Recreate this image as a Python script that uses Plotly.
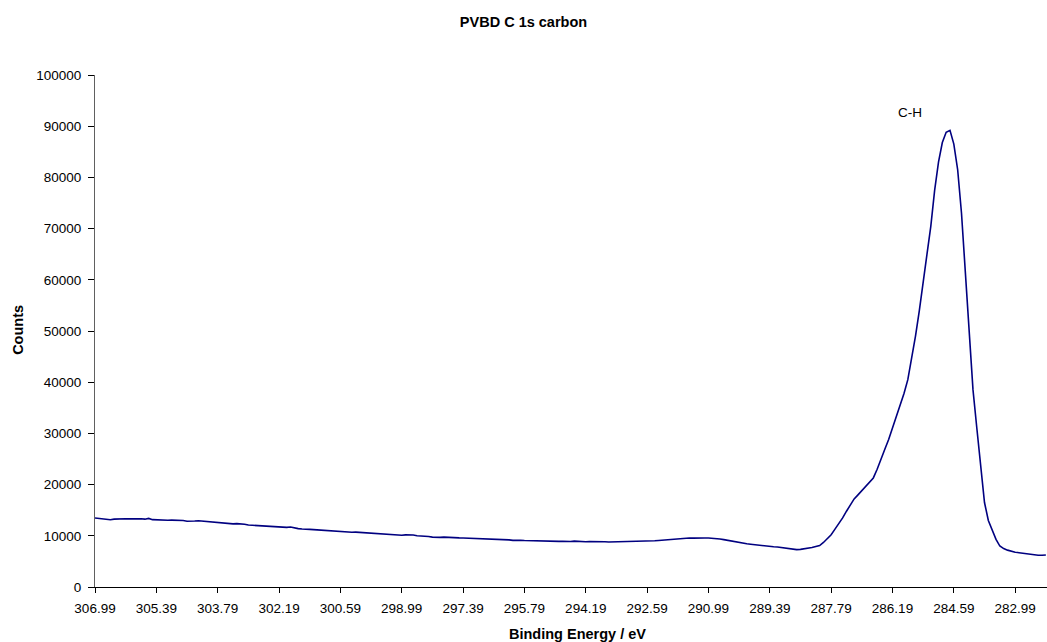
import numpy as np
import plotly.graph_objects as go

# Binding energy axis: 306.99 eV down to 282.19 eV in 0.1 eV steps (249 points)
energy_start = 306.99
energy_step = 0.1
n_points = 249
binding_energy = [round(energy_start - i * energy_step, 2) for i in range(n_points)]

counts_background = [
    13480, 13420, 13300, 13180, 13140, 13250, 13300, 13280, 13320, 13300,
    13350, 13300, 13330, 13250, 13400, 13150, 13100, 13080, 13060, 13050,
    13070, 13040, 13060, 12980, 12850, 12810, 12900, 12950, 12880, 12800,
    12750, 12650, 12620, 12500, 12400, 12300, 12320, 12380, 12360, 12250,
    12100, 12050, 11980, 11900, 11850, 11800, 11710, 11750, 11690, 11600,
    11650, 11710, 11500, 11400, 11320, 11350, 11250, 11200, 11150, 11130,
    11050, 10950, 10860, 10900, 10850, 10800, 10750, 10700, 10720, 10670,
    10650, 10600, 10500, 10450, 10410, 10350, 10280, 10200, 10120, 10080,
    10100, 10180, 10220, 10150, 10020, 10000, 9950, 9850, 9750, 9690,
    9700, 9750, 9680, 9620, 9650, 9600, 9580, 9550, 9500, 9480,
    9450, 9400, 9420, 9380, 9350, 9300, 9250, 9350, 9200, 9100,
    9150, 9120, 9080, 9050, 9100, 9060, 9020, 9000, 8980, 8950,
    8920, 8910, 8950, 8880, 8900, 8960, 8900, 8870, 8850, 8880,
    8900, 8870, 8850, 8830, 8800, 8820, 8790, 8760, 8780, 8790,
    8780, 8800, 8830, 8870, 8940, 8980, 9020, 9080, 9150, 9230,
    9280, 9350, 9420, 9480, 9540, 9570, 9550, 9600, 9580, 9570,
    9580, 9550, 9480, 9380, 9250, 9100, 8950, 8800, 8650, 8530,
    8450, 8350, 8250, 8150, 8080, 8000, 7950, 7850, 7800, 7700,
    7600, 7450, 7350, 7300, 7350, 7450, 7580, 7700, 7900, 8100,
]

counts_peak = [
    8700, 9400, 10200, 11300, 12300, 13500, 14800, 16000, 17200, 18000,
    18800, 19500, 20300, 21300, 23000, 24800, 26900, 28800, 31000, 33400,
    35600, 37800, 40500, 44500, 49000, 54000, 60000, 65000, 70500, 77500,
    83000, 86800, 88800, 89200, 86500, 81500, 73000, 61000, 50000, 38500,
    31000, 24200, 16500, 13000, 11000, 9300, 8000, 7500, 7200, 6950,
    6800, 6700, 6600, 6500, 6300, 6200, 6200, 6200, 6250,
]

counts = counts_background + counts_peak

tick_labels = ["306.99", "305.39", "303.79", "302.19", "300.59", "298.99",
               "297.39", "295.79", "294.19", "292.59", "290.99", "289.39",
               "287.79", "286.19", "284.59", "282.99"]
tick_values = [float(t) for t in tick_labels]

y_ticks = list(range(0, 100001, 10000))

FONT = "Liberation Sans, Arial, sans-serif"

fig = go.Figure()
fig.add_trace(go.Scatter(
    x=binding_energy, y=counts, mode="lines",
    line=dict(color="#000080", width=1.6),
    hoverinfo="x+y", showlegend=False,
))

fig.update_layout(
    width=1047, height=642,
    margin=dict(l=95, r=0, t=75, b=55),
    paper_bgcolor="white", plot_bgcolor="white",
    font=dict(family=FONT, size=13.5, color="black"),
    title=dict(text="<b>PVBD C 1s carbon</b>", x=0.5, xref="container",
               y=1 - 22 / 642, yref="container", yanchor="middle",
               xanchor="center", font=dict(size=14.5, family=FONT)),
    xaxis=dict(
        range=[306.99, 282.16], tickmode="array", tickvals=tick_values,
        ticktext=tick_labels, ticks="outside", ticklen=5, tickcolor="black",
        showline=True, linecolor="black", linewidth=1, showgrid=False,
        zeroline=False, ticklabelstandoff=4,
    ),
    yaxis=dict(
        range=[0, 100000], tickmode="array", tickvals=y_ticks,
        ticktext=[str(v) for v in y_ticks], ticks="outside", ticklen=6,
        tickcolor="black", showline=True, linecolor="#606060", linewidth=1,
        showgrid=False, zeroline=False, ticklabelstandoff=4,
    ),
    annotations=[
        dict(text="<b>Binding Energy / eV</b>", xref="paper", yref="paper",
             x=(577 - 95) / 952, y=(587.3 - 634.5) / 512.3, showarrow=False,
             xanchor="center", yanchor="middle", font=dict(size=14.5)),
        dict(text="<b>Counts</b>", xref="paper", yref="paper",
             x=(18 - 95) / 952, y=(587.3 - 330) / 512.3, showarrow=False,
             textangle=-90, xanchor="center", yanchor="middle",
             font=dict(size=14.5)),
        dict(text="C-H", xref="x", yref="y", x=285.73, y=92600,
             showarrow=False, xanchor="center", yanchor="middle",
             font=dict(size=13.5)),
    ],
)

fig.write_html("out.html")
